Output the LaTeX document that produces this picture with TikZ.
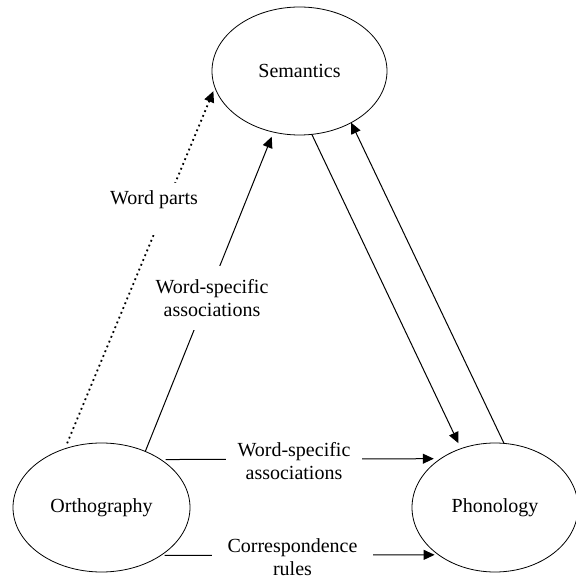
\documentclass[tikz,border=0pt]{standalone}
\usepackage{fontspec}
\setmainfont{Liberation Serif}
\usetikzlibrary{shapes.geometric,arrows.meta}
\begin{document}
\begin{tikzpicture}[x=1pt,y=1pt,
  concept/.style={draw, ellipse, line width=0.8pt, inner sep=0pt, outer sep=0pt,
    font=\fontsize{20}{23}\selectfont},
  link/.style={line width=1pt, -{Triangle[length=11pt,width=10pt]}},
  dotlink/.style={line width=1.8pt, dash pattern=on 1.8pt off 3.4pt,
    -{Triangle[length=11pt,width=10pt]}},
  gaplabel/.style={fill=white, align=center, inner sep=0pt,
    font=\fontsize{20}{23}\selectfont}
]
\useasboundingbox (0,0) rectangle (576,579);
% concepts
\node[concept, minimum width=175pt, minimum height=128pt] (sem) at (299.5,508) {Semantics};
\node[concept, minimum width=177pt, minimum height=129pt] (orth) at (101.5,71.5) {Orthography};
\node[concept, minimum width=166pt, minimum height=129pt] (phon) at (495,71.5) {Phonology};
% connectors
\draw[dotlink, shorten <=6pt, shorten >=4pt] (orth.122) -- (sem.191);
\draw[link, shorten >=5pt] (orth.52) -- (sem.247.7);
\draw[link, shorten >=6pt] (sem.281.4) -- (phon.120.5);
\draw[link] (phon.82.9) -- (sem.315.8);
\draw[link, shorten <=5pt, shorten >=7pt] (orth.39.8) -- (phon.138.4);
\draw[link, shorten <=4pt, shorten >=4pt] (orth.321.6) -- (phon.220.2);
% labels
\node[gaplabel, inner xsep=2pt, text height=22pt, text depth=30pt, anchor=base] (wp) at (154,374) {Word parts};
\node[gaplabel, inner xsep=2pt, inner ysep=13pt] (wsa1) at (212,281) {Word-specific\\associations};
\node[gaplabel, inner xsep=12pt, inner ysep=2pt] (wsa2) at (294,117.5) {Word-specific\\associations};
\node[gaplabel, inner xsep=15.5pt, inner ysep=2pt] (cr) at (292.5,21.5) {Correspondence\\rules};
\end{tikzpicture}
\end{document}
